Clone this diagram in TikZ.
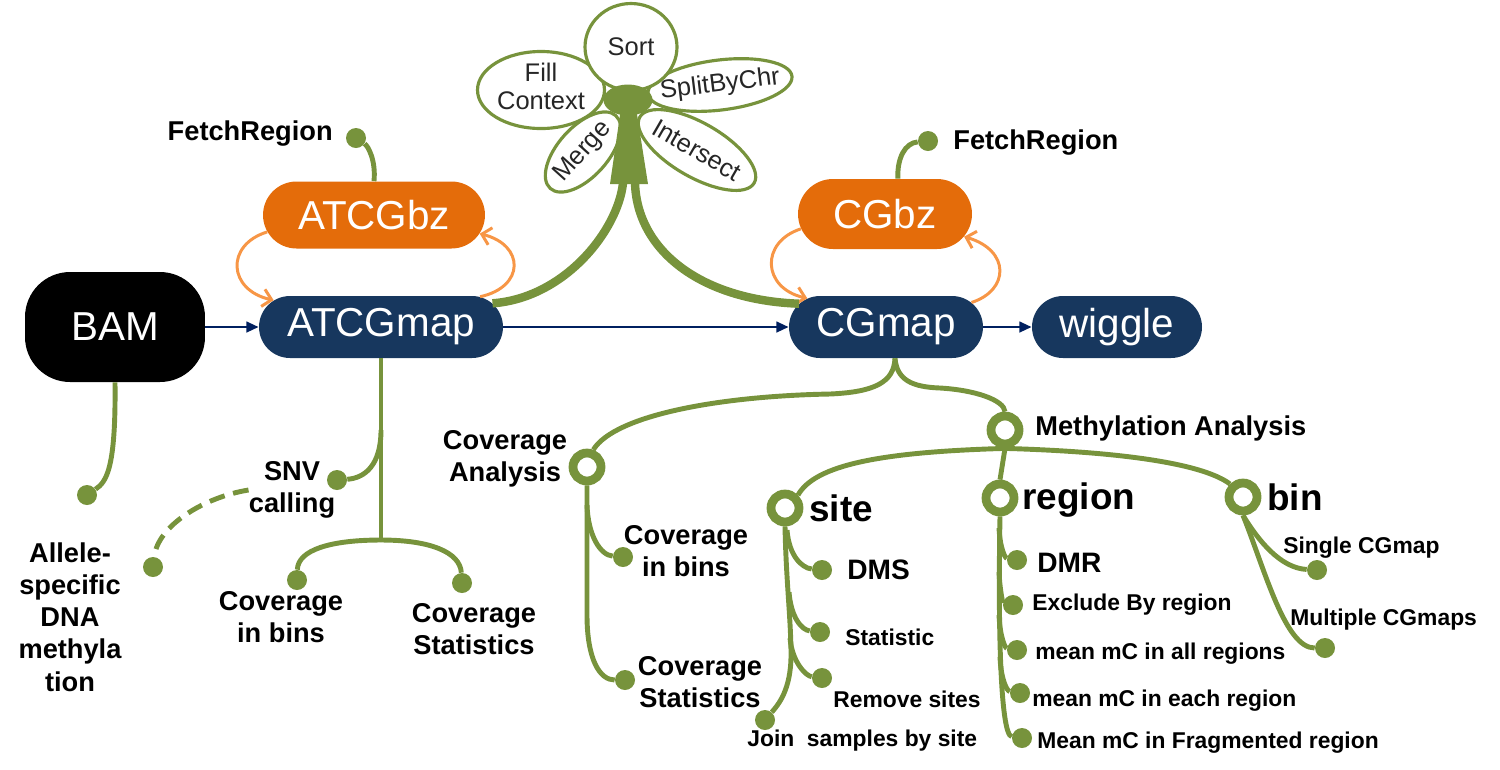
\documentclass[tikz,border=0pt]{standalone}
\usepackage{fontspec}
\setmainfont{Liberation Sans}
\usetikzlibrary{shapes.misc,shapes.geometric,arrows.meta}

\definecolor{leaf}{RGB}{119,147,60}
\definecolor{mapblue}{RGB}{23,55,94}
\definecolor{bzorange}{RGB}{228,108,10}
\definecolor{looporange}{RGB}{247,150,70}
\definecolor{flowblue}{RGB}{0,32,96}
\definecolor{petalgray}{RGB}{38,38,38}

\tikzset{
	fmt/.style={rounded rectangle, inner sep=0pt, minimum height=1.24cm, text=white, font=\fontsize{23}{26}\selectfont},
	leafdot/.style={circle, fill=leaf, inner sep=0pt, minimum size=0.4cm},
	hubring/.style={circle, draw=leaf, line width=5pt, fill=white, inner sep=0pt, minimum size=0.56cm},
	branch/.style={draw=leaf, line width=2.8pt},
	trunk/.style={draw=leaf, line width=4.8pt},
	petal/.style={ellipse, draw=leaf, line width=1.8pt, fill=white, inner sep=0pt, text=petalgray, font=\fontsize{14.5}{15.5}\selectfont},
	bigtxt/.style={font=\bfseries\fontsize{15.5}{18.3}\selectfont, align=center, inner sep=0pt},
	midtxt/.style={font=\bfseries\fontsize{16}{19}\selectfont, inner sep=0pt, anchor=west},
	smalltxt/.style={font=\bfseries\fontsize{13}{15}\selectfont, inner sep=0pt, anchor=west},
	headtxt/.style={font=\bfseries\fontsize{21}{24}\selectfont, inner sep=0pt, anchor=west},
	flow/.style={draw=flowblue, line width=1.5pt, -{Triangle[length=7pt,width=6pt]}},
	bzloop/.style={draw=looporange, line width=1.7pt, -{Straight Barb[length=5pt,width=10pt]}},
}

\begin{document}
\begin{tikzpicture}[x=0.02cm, y=-0.02cm]
	\useasboundingbox (0,0) rectangle (1500,769);

	% main formats
	\node[rectangle, rounded corners=0.9cm, fill=black, text=white, font=\fontsize{23}{26}\selectfont, minimum width=3.6cm, minimum height=2.2cm] (bam) at (115,327) {BAM};
	\node[fmt, fill=mapblue, minimum width=4.88cm] (atcgmap) at (381,327) {ATCGmap};
	\node[fmt, fill=bzorange, minimum width=4.44cm, minimum height=1.34cm] (atcgbz) at (374,215) {ATCGbz};
	\node[fmt, fill=bzorange, minimum width=3.48cm, minimum height=1.4cm] (cgbz) at (885,214) {CGbz};
	\node[fmt, fill=mapblue, minimum width=3.88cm] (cgmap) at (886,327) {CGmap};
	\node[fmt, fill=mapblue, minimum width=3.4cm] (wiggle) at (1117,327) {wiggle};

	\draw[flow] (bam.east) -- (atcgmap.west);
	\draw[flow] (atcgmap.east) -- (cgmap.west);
	\draw[flow] (cgmap.east) -- (wiggle.west);

	\draw[bzloop] (atcgbz.189) .. controls (225,245) and (228,290) .. (atcgmap.166);
	\draw[bzloop] (atcgmap.17) .. controls (525,287) and (525,245) .. (atcgbz.350);
	\draw[bzloop] (cgbz.190) .. controls (760,242) and (762,288) .. (cgmap.160);
	\draw[bzloop] (cgmap.16) .. controls (1010,290) and (1010,250) .. (cgbz.344);

	% fetch region
	\node[leafdot] (fetchdotA) at (356,138) {};
	\node[bigtxt, anchor=east] (fetchA) at (333,134) {FetchRegion};
	\draw[branch] (atcgbz.north) .. controls (376,160) and (368,146) .. (fetchdotA);
	\node[leafdot] (fetchdotB) at (928,141) {};
	\node[bigtxt, anchor=west] (fetchB) at (953,143) {FetchRegion};
	\draw[branch] (cgbz.70) .. controls (897,158) and (905,143) .. (fetchdotB);

	% flower of tools
	\node[petal, minimum width=2.54cm, minimum height=1.5cm] (fill) at (541,90) {\makebox[0pt]{\begin{tabular}{@{}c@{}}Fill\\Context\end{tabular}}};
	\node[petal, minimum width=1.96cm, minimum height=1.0cm, rotate=48] (merge) at (583,152) {\makebox[0pt]{Merge}};
	\node[petal, minimum width=2.64cm, minimum height=1.08cm, rotate=-30] (intersect) at (697,150) {\makebox[0pt]{Intersect}};
	\node[petal, minimum width=2.9cm, minimum height=1.0cm, rotate=7] (split) at (720,85) {\makebox[0pt]{SplitByChr}};
	\node[petal, minimum width=1.84cm, minimum height=1.74cm] (sort) at (631,47) {\makebox[0pt]{Sort}};
	\node[ellipse, fill=leaf, inner sep=0pt, minimum width=0.98cm, minimum height=0.62cm] (hub) at (628,100) {};
	\fill[leaf] (621,108) -- (636,108) -- (648,184) -- (610,184) -- cycle;
	\coordinate (stemL) at (623,183);
	\coordinate (stemR) at (635,183);
	\draw[trunk] (atcgmap.12) .. controls (565,298) and (618,230) .. (stemL);
	\draw[trunk] (cgmap.165) .. controls (700,300) and (637,250) .. (stemR);

	% BAM and ATCGmap branches
	\node[leafdot] (bamdot) at (87,495) {};
	\draw[branch] (bam.south) .. controls (116,470) and (106,482) .. (bamdot);
	\node[bigtxt] (allele) at (70,617) {Allele-\\specific\\DNA\\methyla\\tion};
	\node[bigtxt] (snv) at (292,490) {SNV\\calling};
	\node[leafdot] (asmdot) at (153,567) {};
	\draw[branch, dash pattern=on 9pt off 5pt] (snv.west) .. controls (205,497) and (158,525) .. (asmdot);

	\coordinate (snvfork) at (381,430);
	\coordinate (covfork) at (381,540);
	\draw[branch] (atcgmap.south) -- (covfork);
	\node[leafdot] (snvdot) at (337,480) {};
	\draw[branch] (snvfork) .. controls (381,465) and (365,478) .. (snvdot);
	\node[leafdot] (covbinA) at (297,580) {};
	\node[leafdot] (covstatA) at (462,583) {};
	\draw[branch] (covfork) .. controls (330,540) and (298,550) .. (covbinA);
	\draw[branch] (covfork) .. controls (430,540) and (460,552) .. (covstatA);
	\node[bigtxt] (covbinAtxt) at (281,617) {Coverage\\in bins};
	\node[bigtxt] (covstatAtxt) at (474,629) {Coverage\\Statistics};

	% CGmap branches
	\node[hubring] (covring) at (587,467) {};
	\node[hubring] (methring) at (1005,430) {};
	\coordinate (cgleft) at (830,394);
	\coordinate (cgright) at (940,388);
	\draw[branch] (cgmap.286) .. controls (894,382) and (875,392) .. (cgleft) .. controls (720,396) and (615,415) .. (covring.70);
	\draw[branch] (cgmap.286) .. controls (897,380) and (912,387) .. (cgright) .. controls (975,390) and (1004,400) .. (methring.north);
	\node[bigtxt] (covana) at (505,459) {Coverage\\Analysis};
	\node[bigtxt, anchor=west] (methtxt) at (1035,428) {Methylation Analysis};

	% coverage analysis
	\coordinate (covbend) at (587,615);
	\coordinate (covbinfork) at (587,505);
	\node[leafdot] (covbinB) at (623,557) {};
	\node[leafdot] (covstatB) at (625,680) {};
	\draw[branch] (covring.south) -- (covbend) .. controls (587,660) and (600,680) .. (covstatB);
	\draw[branch] (covbinfork) .. controls (588,535) and (600,555) .. (covbinB);
	\node[bigtxt] (covbinBtxt) at (686,551) {Coverage\\in bins};
	\node[bigtxt] (covstatBtxt) at (700,682) {Coverage\\Statistics};

	% methylation analysis
	\node[hubring] (sitering) at (785,508) {};
	\node[hubring] (regionring) at (1000,498) {};
	\node[hubring] (binring) at (1243,497) {};
	\draw[branch] (methring.south) .. controls (880,452) and (815,465) .. (sitering.north east);
	\draw[branch] (methring.south) .. controls (1130,452) and (1205,465) .. (binring.north west);
	\draw[branch] (methring.south) -- (regionring.north);
	\node[headtxt] (sitetxt) at (809,508) {site};
	\node[headtxt] (regiontxt) at (1022,500) {region};
	\node[headtxt] (bintxt) at (1267,497) {bin};

	% site
	\coordinate (sitelow) at (791,655);
	\coordinate (sitefA) at (787,530);
	\coordinate (sitefB) at (789,592);
	\coordinate (sitefC) at (790,638);
	\node[leafdot] (joindot) at (765,720) {};
	\node[leafdot] (dmsdot) at (822,570) {};
	\node[leafdot] (statdot) at (820,632) {};
	\node[leafdot] (rmdot) at (822,678) {};
	\draw[branch] (sitering.south) .. controls (786,580) and (791,620) .. (sitelow) .. controls (791,690) and (778,705) .. (joindot);
	\draw[branch] (sitefA) .. controls (789,556) and (802,568) .. (dmsdot);
	\draw[branch] (sitefB) .. controls (791,618) and (802,630) .. (statdot);
	\draw[branch] (sitefC) .. controls (792,662) and (806,676) .. (rmdot);
	\node[midtxt] (dmstxt) at (847,570) {DMS};
	\node[smalltxt] (stattxt) at (845,637) {Statistic};
	\node[smalltxt] (rmtxt) at (833,699) {Remove sites};
	\node[smalltxt] (jointxt) at (747,741) {Join~ samples by site};

	% region
	\coordinate (regfA) at (999,528);
	\coordinate (regfB) at (999,572);
	\coordinate (regfC) at (999,615);
	\coordinate (regfD) at (1000,657);
	\node[leafdot] (dmrdot) at (1017,560) {};
	\node[leafdot] (excldot) at (1013,605) {};
	\node[leafdot] (alldot) at (1017,650) {};
	\node[leafdot] (eachdot) at (1020,693) {};
	\node[leafdot] (fragdot) at (1022,738) {};
	\draw[branch] (regionring.south) .. controls (998,620) and (1000,735) .. (fragdot);
	\draw[branch] (regfA) .. controls (1000,548) and (1005,558) .. (dmrdot);
	\draw[branch] (regfB) .. controls (1000,592) and (1003,603) .. (excldot);
	\draw[branch] (regfC) .. controls (1000,637) and (1005,648) .. (alldot);
	\draw[branch] (regfD) .. controls (1001,680) and (1007,691) .. (eachdot);
	\node[midtxt] (dmrtxt) at (1037,563) {DMR};
	\node[smalltxt] (excltxt) at (1032,605) {Exclude By region};
	\node[smalltxt] (alltxt) at (1035,654) {mean mC in all regions};
	\node[smalltxt] (eachtxt) at (1032,701) {mean mC in each region};
	\node[smalltxt] (fragtxt) at (1037,743) {Mean mC in Fragmented region};

	% bin
	\node[leafdot] (singledot) at (1317,570) {};
	\node[leafdot] (multidot) at (1325,648) {};
	\draw[branch] (binring.south) .. controls (1258,540) and (1280,568) .. (singledot);
	\draw[branch] (binring.south) .. controls (1265,570) and (1285,648) .. (multidot);
	\node[smalltxt] (singletxt) at (1283,548) {Single CGmap};
	\node[smalltxt] (multitxt) at (1290,620) {Multiple CGmaps};

\end{tikzpicture}
\end{document}
